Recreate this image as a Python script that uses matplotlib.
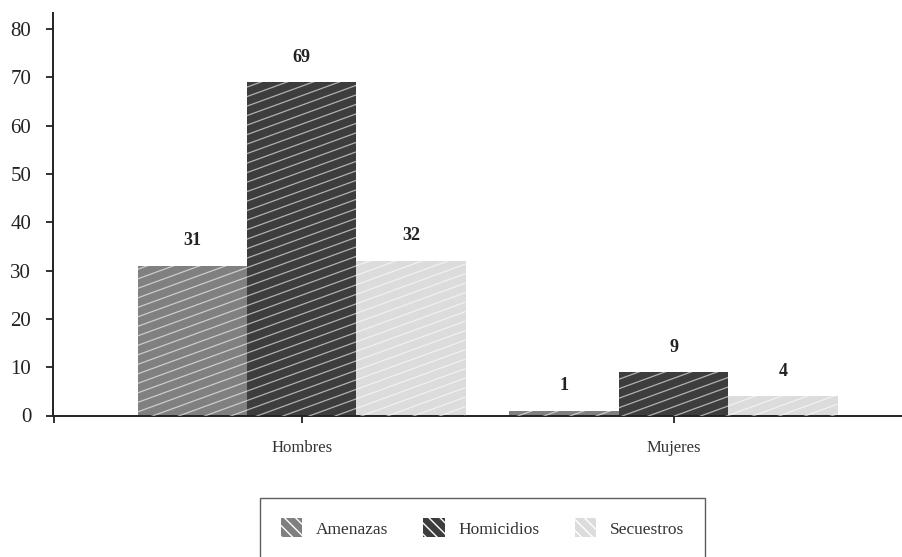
import numpy as np
import matplotlib.pyplot as plt
from matplotlib.patches import Patch
from matplotlib.collections import LineCollection
from matplotlib.transforms import IdentityTransform

# ---- data ----
groups = ['Hombres', 'Mujeres']
series = ['Amenazas', 'Homicidios', 'Secuestros']
amenazas = [31, 1]
homicidios = [69, 9]
secuestros = [32, 4]
colors = ['#808081', '#3d3d3d', '#dcdcdd']

plt.rcParams['font.family'] = ['Liberation Serif', 'DejaVu Serif']
plt.rcParams['hatch.linewidth'] = 1.0

fig = plt.figure(figsize=(9.03, 5.57), dpi=100)
ax = fig.add_axes([53.5 / 903, (557 - 415.5) / 557, 1 - 53.5 / 903, (415.5 - 13) / 557])

x = np.arange(len(groups))
width = 0.294
values = [amenazas, homicidios, secuestros]
all_bars = []
for i, (vals, col) in enumerate(zip(values, colors)):
    bars = ax.bar(x + (i - 1) * width, vals, width, color=col, linewidth=0, zorder=2)
    all_bars.append(bars)
    for xi, v in zip(x + (i - 1) * width, vals):
        ax.annotate(str(v), (xi, v), xytext=(0, 18), textcoords='offset points',
                    ha='center', va='center', fontsize=13, fontweight='bold', color='#222222')

ax.set_xlim(-0.667, 1.617)
ax.set_ylim(0, 83.3)
ax.set_yticks(range(0, 81, 10))
ax.set_xticks([-0.667, 0, 1])
ax.set_xticklabels(['', groups[0], groups[1]], fontsize=12, color='#333333')
ax.tick_params(axis='y', direction='out', length=5, width=1.3, pad=11, labelsize=15,
               labelcolor='#222222', color='#222222')
ax.tick_params(axis='x', direction='out', length=5, width=1.3, pad=13, color='#222222')
for side in ['top', 'right']:
    ax.spines[side].set_visible(False)
for side in ['left', 'bottom']:
    ax.spines[side].set_linewidth(1.4)
    ax.spines[side].set_color('#222222')


# thin diagonal shading on every bar, drawn in pixel space and clipped to the bar
def shade(bar, angle=20, step=9.5, alpha=0.6):
    (x0, y0) = ax.transData.transform((bar.get_x(), bar.get_y()))
    (x1, y1) = ax.transData.transform((bar.get_x() + bar.get_width(), bar.get_y() + bar.get_height()))
    slope = np.tan(np.radians(angle))
    kmin = int(np.floor((y0 - slope * x1) / step)) - 1
    kmax = int(np.ceil((y1 - slope * x0) / step)) + 1
    segs = [[(x0, slope * x0 + k * step), (x1, slope * x1 + k * step)] for k in range(kmin, kmax)]
    lc = LineCollection(segs, colors='white', linewidths=0.9, alpha=alpha,
                        transform=IdentityTransform(), zorder=3)
    ax.add_collection(lc, autolim=False)
    lc.set_clip_path(bar)


for bars in all_bars:
    for b in bars:
        shade(b)

handles = [Patch(facecolor=c, edgecolor='white', linewidth=0, hatch='\\' * 3) for c in colors]
leg = fig.legend(handles, series, loc='center', bbox_to_anchor=(482.5 / 903, 1 - 528 / 557),
                 ncol=3, fontsize=12.5, frameon=True, fancybox=False, handlelength=1.25,
                 handleheight=1.25, handletextpad=0.8, columnspacing=2.0, borderpad=1.2,
                 borderaxespad=0)
leg.get_frame().set_edgecolor('#333333')
leg.get_frame().set_linewidth(1.0)
for t in leg.get_texts():
    t.set_color('#333333')

fig.savefig('out.png', dpi=100)
